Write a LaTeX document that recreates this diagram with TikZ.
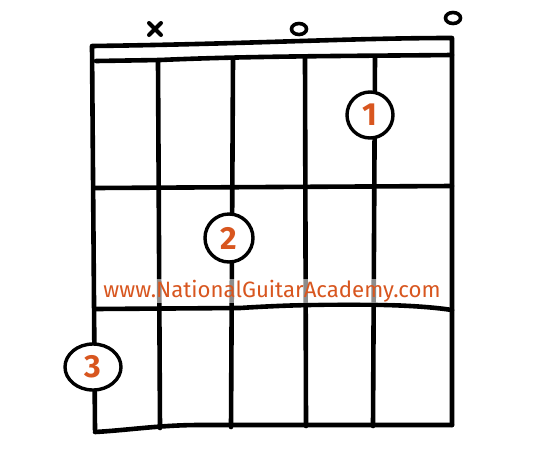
\documentclass[tikz,border=0pt]{standalone}
\usepackage{fontspec}
\usepackage{graphicx}
\setsansfont{Fira Sans}
\definecolor{ngaorange}{HTML}{D8561F}
\usetikzlibrary{shapes.geometric}
\tikzset{
  grid/.style={line width=4.6pt, line cap=round, line join=round},
  finger/.style={draw, circle, line width=3.4pt, fill=white, text=ngaorange, font=\sffamily\bfseries\fontsize{32}{32}\selectfont, inner sep=0pt, minimum size=46pt},
  openmark/.style={draw, ellipse, line width=3.6pt, minimum width=15pt, minimum height=11pt, inner sep=0pt},
  crossmark/.style={line width=4pt, line cap=round},
}
\begin{document}
\begin{tikzpicture}[x=1pt,y=-1pt]
\useasboundingbox (0,0) rectangle (540,472);
% nut
\coordinate (nutTL) at (92,46);
\coordinate (nutTR) at (452,38);
\coordinate (nutBL) at (96,61);
\coordinate (nutBR) at (452,55);
\draw[grid] (95,430) -- (nutTL) .. controls (250,44) and (350,38) .. (nutTR) -- (452,425);
\draw[grid] (nutBL) -- (160,60) .. controls (250,56) and (350,56) .. (nutBR);
% strings
\coordinate (s2t) at (158,62); \coordinate (s2b) at (160,428);
\coordinate (s3t) at (233,60); \coordinate (s3b) at (231,427);
\coordinate (s4t) at (305,58); \coordinate (s4b) at (306,426);
\coordinate (s5t) at (375,57); \coordinate (s5b) at (373,426);
\draw[grid] (s2t) -- (s2b);
\draw[grid] (s3t) -- (s3b);
\draw[grid] (s4t) -- (s4b);
\draw[grid] (s5t) -- (s5b);
% frets
\draw[grid] (95,188) -- (452,186);
\draw[grid] (95,309) -- (240,308) .. controls (300,304) and (400,302) .. (452,310);
\draw[grid] (95,432) .. controls (130,430) and (160,425) .. (200,425) -- (452,425);
% watermark
\node[fill=white, fill opacity=0.55, text opacity=1, text=ngaorange, inner sep=1pt] (web) at (272,291)
  {\resizebox{337pt}{!}{\sffamily www.NationalGuitarAcademy.com}};
% top marks
\coordinate (mute) at (155,29);
\draw[crossmark] ([shift={(-6,-6)}]mute) -- ([shift={(6,6)}]mute);
\draw[crossmark] ([shift={(6,-6)}]mute) -- ([shift={(-6,6)}]mute);
\node[openmark] (open4) at (299,29) {};
\node[openmark] (open6) at (453,18) {};
% fingers
\node[finger] (f1) at (370,115) {1};
\node[finger, minimum size=48pt] (f2) at (229,238) {2};
\node[finger, ellipse, minimum width=56pt, minimum height=46pt] (f3) at (93,367) {3};
\end{tikzpicture}
\end{document}
